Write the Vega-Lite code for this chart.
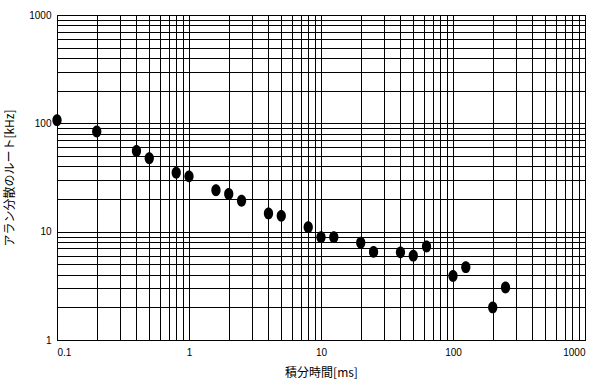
{
  "$schema": "https://vega.github.io/schema/vega-lite/v6.json",
  "width": 528,
  "height": 325,
  "autosize": "none",
  "padding": {"left": 57, "top": 15, "right": 20, "bottom": 47},
  "background": "white",
  "config": {
    "view": {"stroke": "#000", "strokeWidth": 1},
    "axis": {
      "domain": false,
      "ticks": false,
      "grid": true,
      "gridColor": "#000",
      "gridOpacity": 1,
      "gridWidth": 1,
      "labelFont": "Liberation Sans Narrow, Liberation Sans, sans-serif",
      "labelFontSize": 10,
      "labelColor": "#000",
      "labelOverlap": false,
      "labelBound": false,
      "titleFont": "Noto Sans CJK JP",
      "titleFontSize": 12,
      "titleFontWeight": "normal",
      "titleColor": "#000"
    }
  },
  "data": {
    "values": [
      {"t": 0.1, "v": 107},
      {"t": 0.2, "v": 84},
      {"t": 0.4, "v": 55.6},
      {"t": 0.5, "v": 47.6},
      {"t": 0.8, "v": 35},
      {"t": 1, "v": 32.4},
      {"t": 1.6, "v": 24.1},
      {"t": 2, "v": 22.3},
      {"t": 2.5, "v": 19.3},
      {"t": 4, "v": 14.7},
      {"t": 5, "v": 14.0},
      {"t": 8, "v": 11.0},
      {"t": 10, "v": 8.9},
      {"t": 12.5, "v": 8.9},
      {"t": 20, "v": 7.9},
      {"t": 25, "v": 6.5},
      {"t": 40, "v": 6.45},
      {"t": 50, "v": 6.0},
      {"t": 63, "v": 7.3},
      {"t": 100, "v": 3.9},
      {"t": 125, "v": 4.7},
      {"t": 200, "v": 2.0},
      {"t": 250, "v": 3.05}
    ]
  },
  "mark": {"type": "point", "filled": true, "color": "#000", "opacity": 1, "size": 140, "shape": "M-0.78,0A0.78,1,0,1,0,0.78,0A0.78,1,0,1,0,-0.78,0Z"},
  "encoding": {
    "x": {
      "field": "t",
      "type": "quantitative",
      "scale": {"type": "log", "domain": [0.1, 1000], "nice": false},
      "axis": {
        "title": "積分時間[ms]",
        "titlePadding": 10,
        "labelPadding": 7,
        "values": [0.1, 0.2, 0.3, 0.4, 0.5, 0.6, 0.7, 0.8, 0.9, 1, 2, 3, 4, 5, 6, 7, 8, 9, 10, 20, 30, 40, 50, 60, 70, 80, 90, 100, 200, 300, 400, 500, 600, 700, 800, 900, 1000],
        "labelExpr": "abs(log(datum.value)/LN10 - round(log(datum.value)/LN10)) < 1e-6 ? format(datum.value, '~g') : ''"
      }
    },
    "y": {
      "field": "v",
      "type": "quantitative",
      "scale": {"type": "log", "domain": [1, 1000], "nice": false},
      "axis": {
        "title": "アラン分散のルート[kHz]",
        "titlePadding": 12,
        "labelPadding": 6,
        "values": [1, 2, 3, 4, 5, 6, 7, 8, 9, 10, 20, 30, 40, 50, 60, 70, 80, 90, 100, 200, 300, 400, 500, 600, 700, 800, 900, 1000],
        "labelExpr": "abs(log(datum.value)/LN10 - round(log(datum.value)/LN10)) < 1e-6 ? format(datum.value, '~g') : ''"
      }
    }
  }
}
